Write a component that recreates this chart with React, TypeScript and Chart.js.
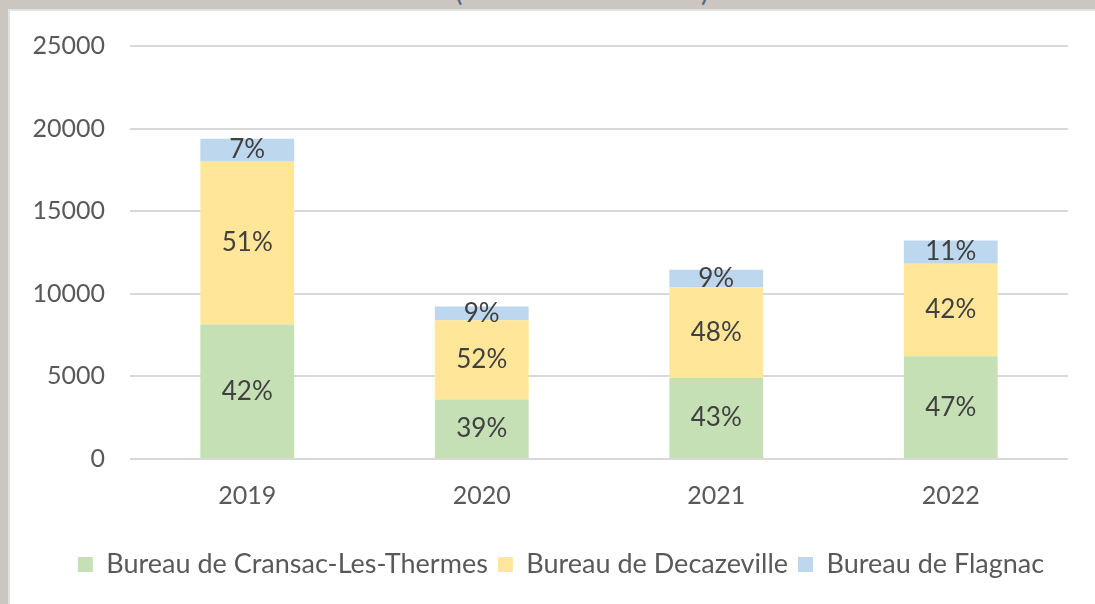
import React, { useEffect, useRef } from "react";
import { Chart, registerables } from "chart.js";

Chart.register(...registerables);

const categories = ["2019", "2020", "2021", "2022"];
const cransac = [8140, 3600, 4900, 6220];
const decazeville = [9900, 4800, 5500, 5600];
const flagnac = [1350, 830, 1050, 1410];
const seriesNames = ["Bureau de Cransac-Les-Thermes", "Bureau de Decazeville", "Bureau de Flagnac"];
const yMax = 25000;
const yStep = 5000;

const FONT = "Lato, 'Open Sans', sans-serif";

const pctLabels = {
  id: "pctLabels",
  afterDatasetsDraw(chart: any) {
    const ctx = chart.ctx;
    const datasets = chart.data.datasets;
    const n = chart.data.labels.length;
    const totals: number[] = [];
    for (let i = 0; i < n; i++) {
      let t = 0;
      datasets.forEach((d: any) => (t += d.data[i]));
      totals.push(t);
    }
    ctx.save();
    ctx.font = `26px ${FONT}`;
    ctx.fillStyle = "#404040";
    ctx.textAlign = "center";
    ctx.textBaseline = "middle";
    datasets.forEach((d: any, di: number) => {
      const meta = chart.getDatasetMeta(di);
      meta.data.forEach((el: any, i: number) => {
        const pct = Math.round((d.data[i] / totals[i]) * 100);
        const y = (el.y + el.base) / 2;
        ctx.fillText(`${pct}%`, el.x, y);
      });
    });
    ctx.restore();
  },
};

export default function App() {
  const ref = useRef<HTMLCanvasElement>(null);

  useEffect(() => {
    document.body.style.margin = "0";
    const chart = new Chart(ref.current as HTMLCanvasElement, {
      type: "bar",
      data: {
        labels: categories,
        datasets: [
          { label: seriesNames[0], data: cransac, backgroundColor: "#c5e0b4" },
          { label: seriesNames[1], data: decazeville, backgroundColor: "#ffe699" },
          { label: seriesNames[2], data: flagnac, backgroundColor: "#bdd7ee" },
        ],
      },
      options: {
        responsive: false,
        animation: false,
        devicePixelRatio: 1,
        layout: { padding: { top: 46, left: 27, right: 0, bottom: 16 } },
        datasets: { bar: { barPercentage: 0.4, categoryPercentage: 1 } },
        scales: {
          x: {
            stacked: true,
            grid: { display: false },
            border: { display: false },
            ticks: { color: "#595959", font: { family: FONT, size: 25 }, padding: 14 },
            afterFit: (s: any) => {
              s.height = 82;
            },
          },
          y: {
            stacked: true,
            min: 0,
            max: yMax,
            border: { display: false },
            grid: { color: "#d9d9d9", lineWidth: 2, drawTicks: false },
            ticks: {
              stepSize: yStep,
              color: "#595959",
              font: { family: FONT, size: 25 },
              padding: 25,
              callback: (v: any) => String(v),
            },
            afterFit: (s: any) => {
              s.width = 103;
            },
          },
          y2: {
            position: "right",
            display: true,
            grid: { display: false },
            border: { display: false },
            ticks: { display: false },
            afterFit: (s: any) => {
              s.width = 27;
            },
          },
        },
        plugins: {
          legend: {
            position: "bottom",
            labels: {
              boxWidth: 15,
              boxHeight: 15,
              padding: 10,
              color: "#595959",
              font: { family: FONT, size: 27 },
            },
          },
          tooltip: { enabled: false },
        },
      },
      plugins: [pctLabels],
    });
    return () => chart.destroy();
  }, []);

  return (
    <div style={{ position: "relative", width: 1095, height: 604, background: "#cbc6bf", overflow: "hidden" }}>
      <div
        style={{
          position: "absolute",
          left: 8,
          top: 9,
          right: 0,
          bottom: 0,
          background: "#ffffff",
          borderLeft: "2px solid #e2e2e2",
          borderTop: "2px solid #e2e2e2",
        }}
      />
      <span style={{ position: "absolute", left: 455, top: -24, fontFamily: FONT, fontSize: 28, lineHeight: "28px", color: "#5a6478" }}>(</span>
      <span style={{ position: "absolute", left: 701, top: -24, fontFamily: FONT, fontSize: 28, lineHeight: "28px", color: "#5a6478" }}>)</span>
      <canvas ref={ref} width={1095} height={604} style={{ position: "absolute", left: 0, top: 0, width: 1095, height: 604 }} />
    </div>
  );
}
